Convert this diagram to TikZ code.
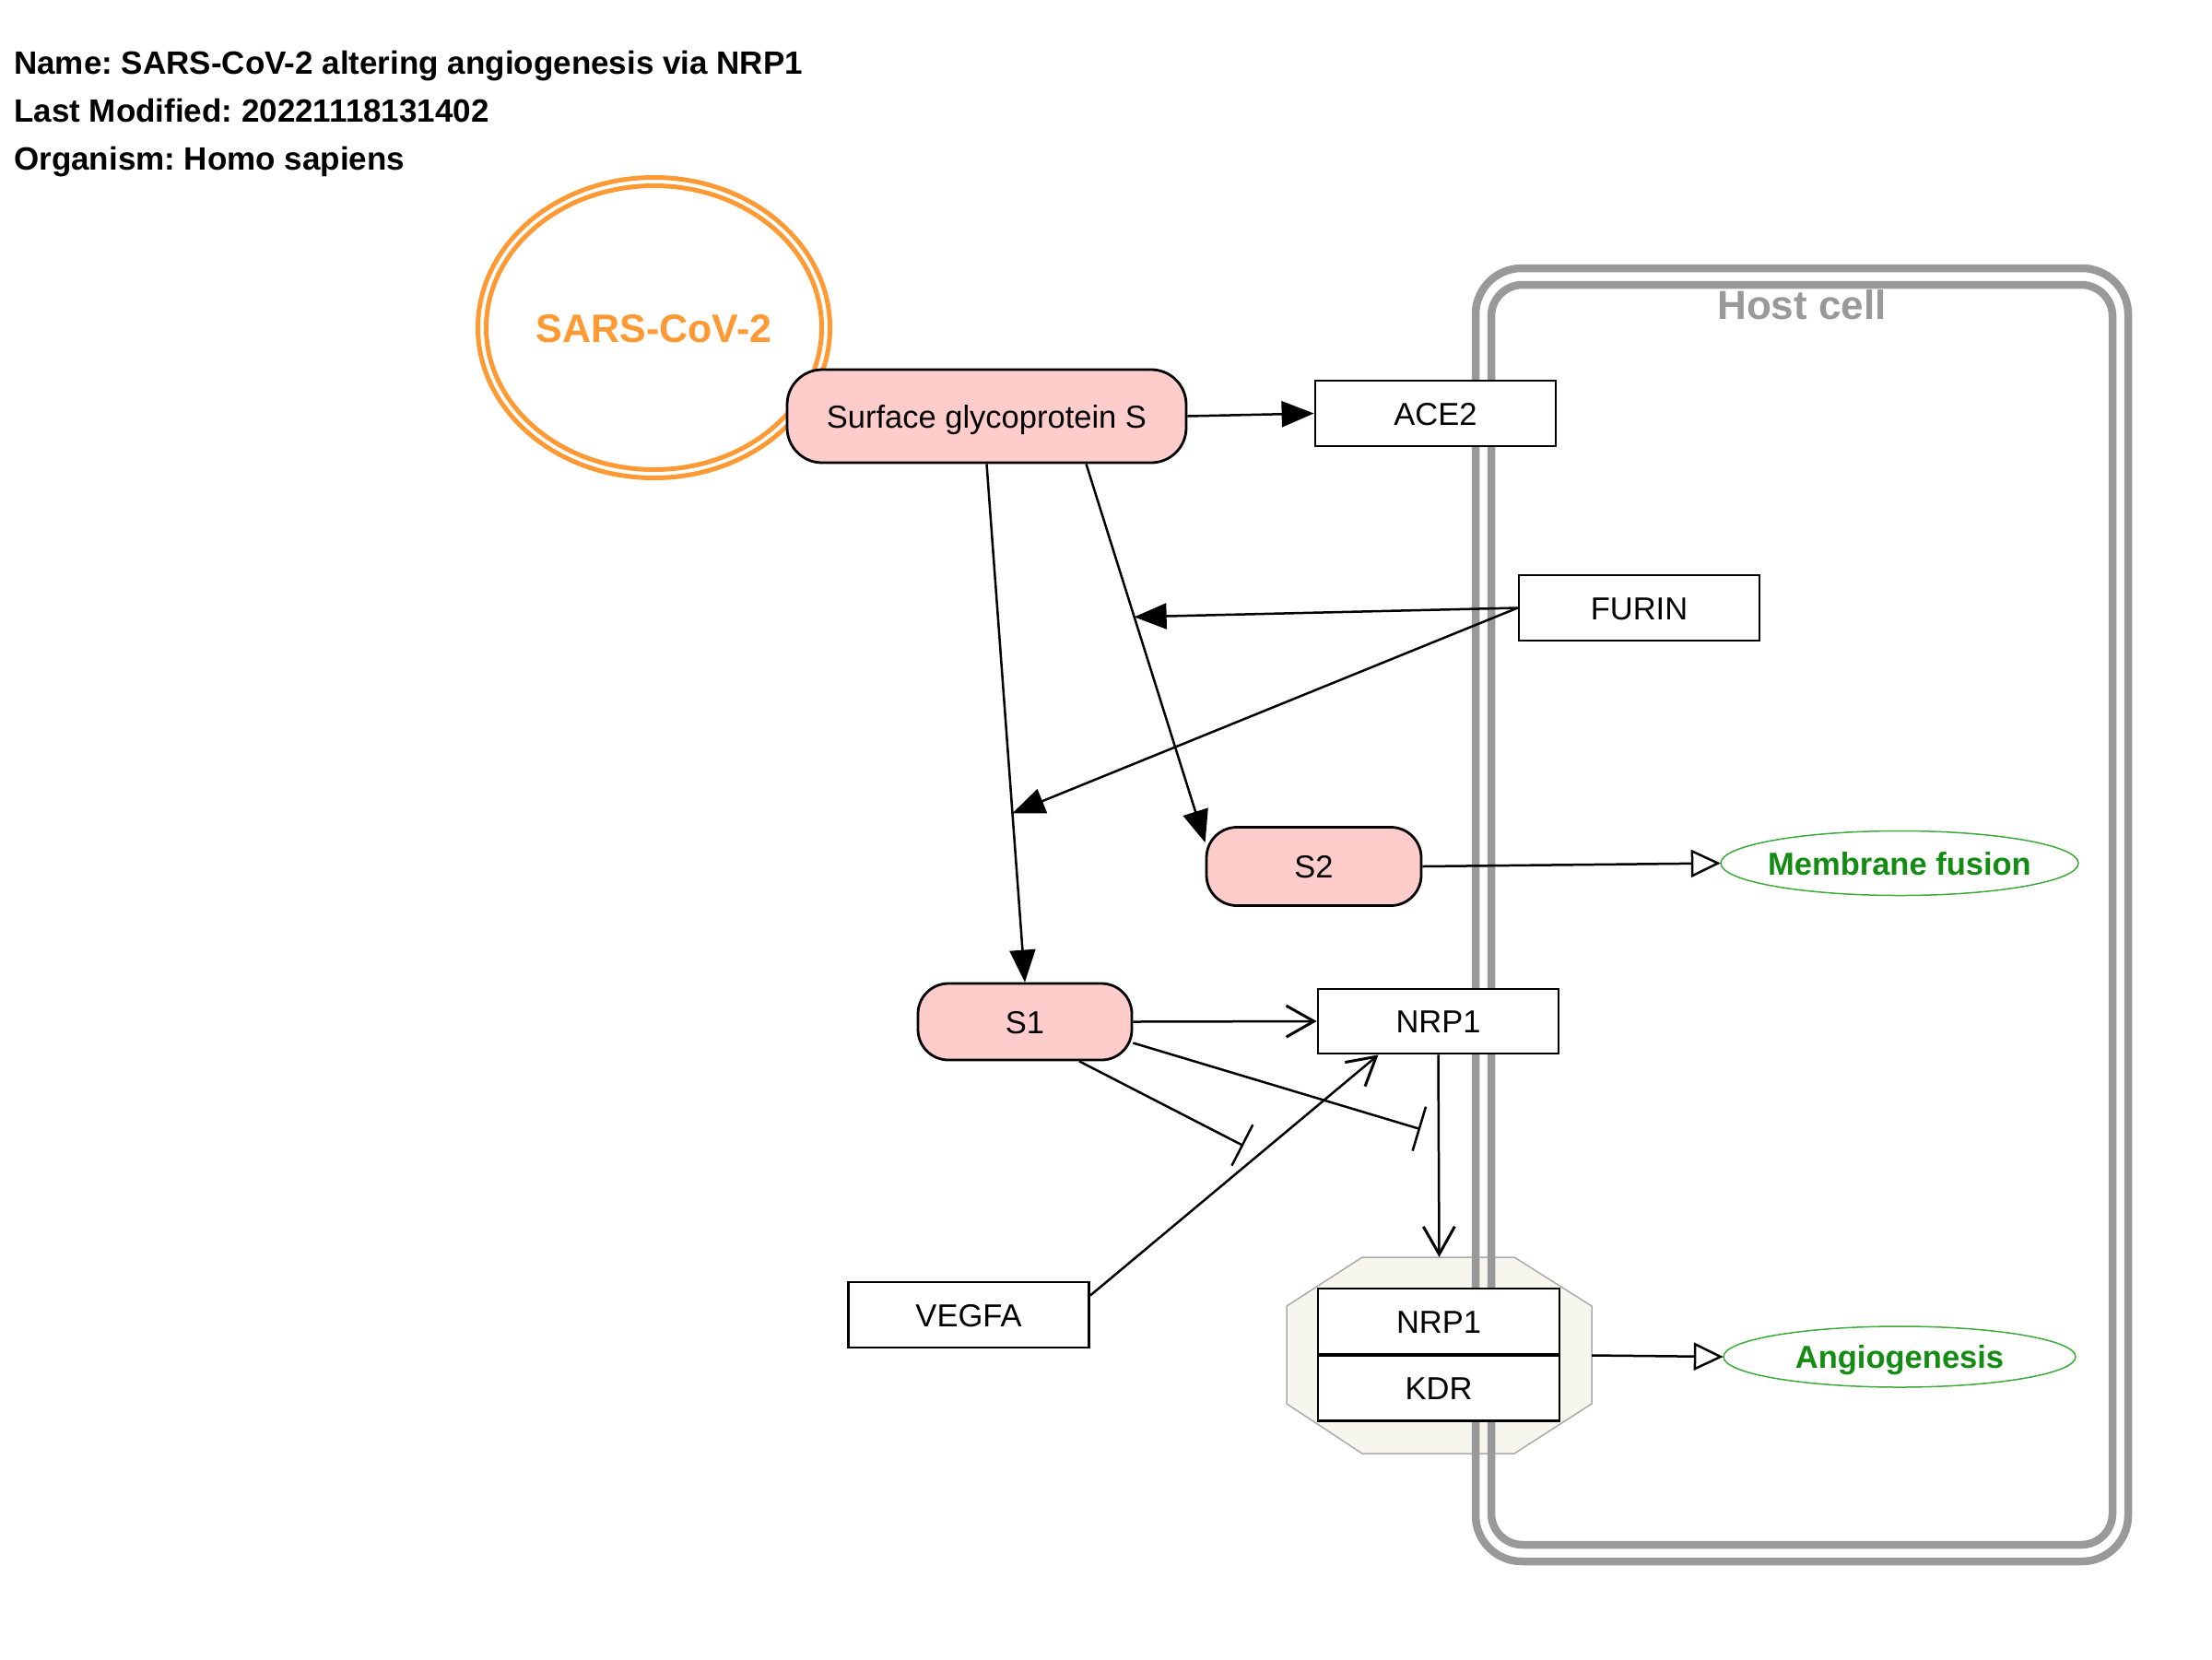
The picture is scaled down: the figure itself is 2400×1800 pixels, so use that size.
\documentclass[tikz,border=0pt]{standalone}
\usepackage{fontspec}
\setmainfont{Liberation Sans}
\usetikzlibrary{arrows.meta,calc,backgrounds,shapes.geometric}

\definecolor{pinkfill}{HTML}{FFCCCC}
\definecolor{sarsorange}{HTML}{FF9933}
\definecolor{hostgray}{HTML}{999999}
\definecolor{octfill}{RGB}{246,246,238}
\definecolor{octline}{RGB}{170,170,170}
\definecolor{phtext}{RGB}{20,140,20}
\definecolor{phline}{RGB}{60,170,60}

\tikzset{
 lbl/.style={font=\fontsize{34.5}{40}\selectfont, text height=25pt, text depth=0pt},
 genebox/.style={draw=black, line width=2.8pt, fill=white, minimum width=261pt, minimum height=71pt, inner sep=0pt, lbl},
 protbox/.style={draw=black, line width=2.8pt, fill=pinkfill, inner sep=0pt, lbl},
 pheno/.style={rectangle, inner sep=0pt, text=phtext, font=\bfseries\fontsize{34.5}{40}\selectfont, text height=25pt, text depth=0pt},
 phenoline/.style={draw=phline, line width=1.5pt},
 edge/.style={line width=2.5pt, draw=black},
 conv/.style={edge, -{Triangle[length=35pt,width=28pt]}},
 stim/.style={edge, -{Straight Barb[length=30pt,width=34pt,line width=3pt]}},
 inhib/.style={edge, -{Bar[width=50pt,line width=2.5pt]}},
 tooutcome/.style={edge, -{Triangle[length=32pt,width=30pt,fill=white,line width=2.5pt]}},
 titletext/.style={anchor=base west, inner sep=0pt, font=\bfseries\fontsize{35}{40}\selectfont},
}

\begin{document}
\frenchspacing
\begin{tikzpicture}[x=1pt,y=-1pt]
\useasboundingbox (0,0) rectangle (2400,1800);

% title
\node[titletext] (t1) at (15,80) {Name: SARS-CoV-2 altering angiogenesis via NRP1};
\node[titletext] (t2) at (15,132) {Last Modified: 20221118131402};
\node[titletext] (t3) at (15,184) {Organism: Homo sapiens};

% nodes
\node[protbox, minimum width=433pt, minimum height=101pt, rounded corners=38pt] (sgs) at (1070.5,451.5) {Surface glycoprotein S};
\node[genebox] (ace2) at (1557.5,448.5) {ACE2};
\node[genebox] (furin) at (1778.5,659.5) {FURIN};
\node[protbox, minimum width=233pt, minimum height=85pt, rounded corners=33pt] (s2) at (1425.5,940) {S2};
\node[protbox, minimum width=232pt, minimum height=83pt, rounded corners=33pt] (s1) at (1112,1108.5) {S1};
\node[genebox, minimum height=70pt] (nrp1) at (1560.5,1108) {NRP1};
\node[genebox] (vegfa) at (1051,1426.5) {VEGFA};
\draw[phenoline] (2061,936.5) ellipse [x radius=194pt, y radius=35pt];
\node[pheno, minimum width=388pt, minimum height=70pt] (mf) at (2061,936.5) {Membrane fusion};
\draw[phenoline] (2061,1472) ellipse [x radius=191pt, y radius=33pt];
\node[pheno, minimum width=382pt, minimum height=66pt] (ang) at (2061,1472) {Angiogenesis};
\node[inner sep=0pt, minimum width=331pt, minimum height=213pt] (cx) at (1561.5,1470.5) {};
\node[genebox, minimum width=262pt, minimum height=71pt] (cnrp1) at (1561,1433.5) {NRP1};
\node[genebox, minimum width=262pt, minimum height=71pt] (ckdr) at (1561,1506) {KDR};

% background
\begin{scope}[on background layer]
\filldraw[fill=octfill, draw=octline, line width=1.5pt]
  (1478,1364) -- (1643,1364) -- (1727,1417) -- (1727,1523) -- (1643,1577) -- (1478,1577) -- (1396,1523) -- (1396,1417) -- cycle;
\draw[hostgray, line width=8.5pt, rounded corners=50pt] (1601,291) rectangle (2309,1694);
\draw[hostgray, line width=8.5pt, rounded corners=34pt] (1618,309) rectangle (2292,1676);
\node[text=hostgray, inner sep=0pt, font=\bfseries\fontsize{44}{50}\selectfont, text height=31.5pt, text depth=0pt] (hostlbl) at (1955,331) {Host cell};
\draw[sarsorange, line width=5pt] (709.5,355.5) ellipse [x radius=191pt, y radius=163pt];
\draw[sarsorange, line width=5pt] (709.5,355.5) ellipse [x radius=182pt, y radius=154pt];
\node[text=sarsorange, inner sep=0pt, font=\bfseries\fontsize{43}{50}\selectfont, text height=31pt, text depth=0pt] (sarslbl) at (709.5,355.5) {SARS-CoV-2};
\end{scope}

% edges
\draw[conv] (sgs.east) -- (ace2.west);
\draw[conv] (sgs.south) -- (s1.north);
\coordinate (s2start) at ([xshift=108pt]sgs.south);
\coordinate (s2tip) at ([yshift=-18pt]s2.north west);
\draw[conv] (s2start) -- (s2tip);
\coordinate (anA) at ($(s2start)!0.404!(s2tip)$);
\draw[conv] (furin.west) -- (anA);
\coordinate (anB) at ($(sgs.south)!0.674!(s1.north)$);
\draw[conv] (furin.west) -- (anB);

\draw[stim] (s1.east) -- (nrp1.west);
\draw[stim] ([yshift=21pt]vegfa.east) -- ([xshift=-65pt]nrp1.south);
\draw[stim] (nrp1.south) -- (cx.north);

\coordinate (barA) at (1349,1243);
\coordinate (barB) at (1541,1225);
\draw[inhib] ([xshift=59pt]s1.south) -- (barA);
\draw[inhib] ([yshift=-23pt]s1.east) -- (barB);

\draw[tooutcome] (s2.east) -- (mf.west);
\draw[tooutcome] (cx.east) -- (ang.west);
\end{tikzpicture}
\end{document}
